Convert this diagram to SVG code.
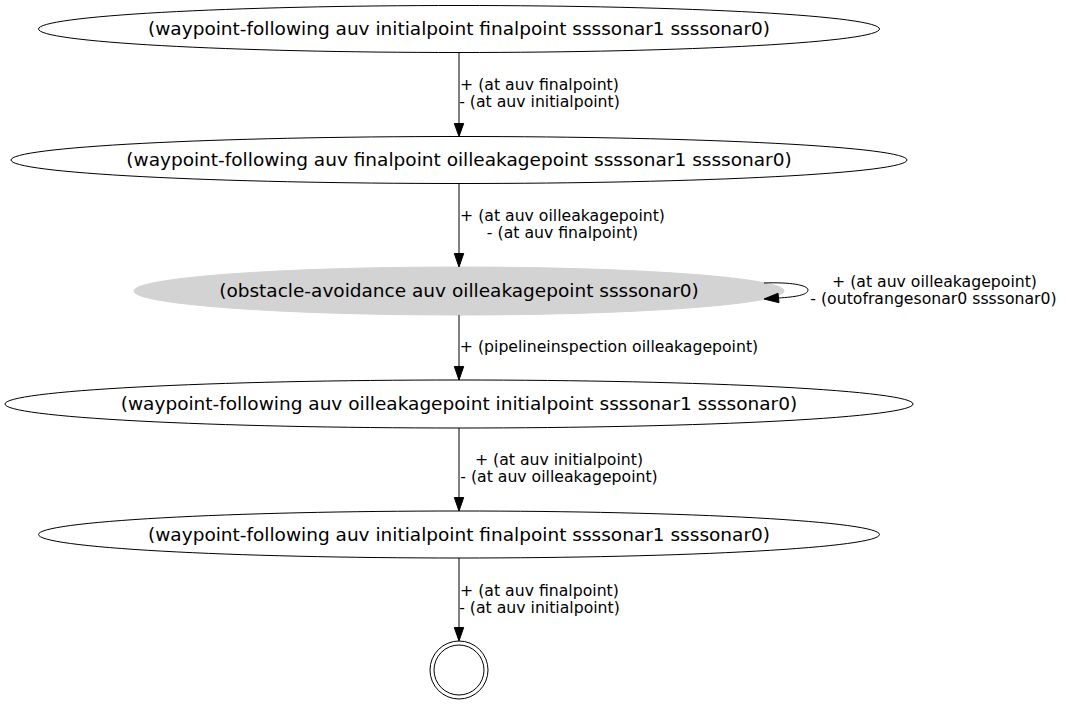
<svg xmlns="http://www.w3.org/2000/svg" width="1066" height="705" viewBox="0 0 1066 705">
<style>
.n{fill:#fff;stroke:#000;stroke-width:1}
.g{fill:#d3d3d3;stroke:#d3d3d3;stroke-width:1}
.nt{font-family:"DejaVu Sans",sans-serif;font-size:18.5px;text-anchor:middle;fill:#000}
.et{font-family:"DejaVu Sans",sans-serif;font-size:15.7px;text-anchor:middle;fill:#000}
.e{fill:none;stroke:#000;stroke-width:1}
.a{fill:#000;stroke:#000;stroke-width:1}
</style>
<rect width="1066" height="705" fill="#fff"/>
<g id="n1"><ellipse class="n" cx="459" cy="29" rx="420.5" ry="23.5"/><text class="nt" x="459" y="35">(waypoint-following auv initialpoint finalpoint ssssonar1 ssssonar0)</text></g>
<g id="n2"><ellipse class="n" cx="459" cy="160" rx="448" ry="23.5"/><text class="nt" x="459" y="166">(waypoint-following auv finalpoint oilleakagepoint ssssonar1 ssssonar0)</text></g>
<g id="n3"><ellipse class="g" cx="459" cy="291" rx="325" ry="24"/><text class="nt" x="459" y="297">(obstacle-avoidance auv oilleakagepoint ssssonar0)</text></g>
<g id="n4"><ellipse class="n" cx="459" cy="404" rx="454" ry="24"/><text class="nt" x="459" y="410">(waypoint-following auv oilleakagepoint initialpoint ssssonar1 ssssonar0)</text></g>
<g id="n5"><ellipse class="n" cx="459" cy="534.5" rx="420.5" ry="23.5"/><text class="nt" x="459" y="541">(waypoint-following auv initialpoint finalpoint ssssonar1 ssssonar0)</text></g>
<g id="final"><circle class="n" cx="459" cy="670" r="29"/><circle class="n" cx="459" cy="670" r="25"/></g>
<g id="edges">
<g id="e1"><path class="e" d="M459,52.5 V123.5"/><polygon class="a" points="454.3,123.5 463.7,123.5 459,136.5"/>
<text class="et" x="539.5" y="90">+ (at auv finalpoint)</text><text class="et" x="539.5" y="107">- (at auv initialpoint)</text></g>
<g id="e2"><path class="e" d="M459,183.5 V253.5"/><polygon class="a" points="454.3,253.5 463.7,253.5 459,267"/>
<text class="et" x="562.5" y="221">+ (at auv oilleakagepoint)</text><text class="et" x="562.5" y="238">- (at auv finalpoint)</text></g>
<g id="e3"><path class="e" d="M764,283 C790,282 808,285 808,290 C808,295 795,297 778.5,298"/><polygon class="a" points="778,293.3 779,302.7 764,299"/>
<text class="et" x="934.5" y="287">+ (at auv oilleakagepoint)</text><text class="et" x="933.5" y="304">- (outofrangesonar0 ssssonar0)</text></g>
<g id="e4"><path class="e" d="M459,315 V366.5"/><polygon class="a" points="454.3,366.5 463.7,366.5 459,380"/>
<text class="et" x="609" y="352">+ (pipelineinspection oilleakagepoint)</text></g>
<g id="e5"><path class="e" d="M459,428 V497.5"/><polygon class="a" points="454.3,497.5 463.7,497.5 459,511"/>
<text class="et" x="559" y="465">+ (at auv initialpoint)</text><text class="et" x="559" y="482">- (at auv oilleakagepoint)</text></g>
<g id="e6"><path class="e" d="M459,558 V627.5"/><polygon class="a" points="454.3,627.5 463.7,627.5 459,641"/>
<text class="et" x="539.5" y="596">+ (at auv finalpoint)</text><text class="et" x="539.5" y="613">- (at auv initialpoint)</text></g>
</g>
</svg>
